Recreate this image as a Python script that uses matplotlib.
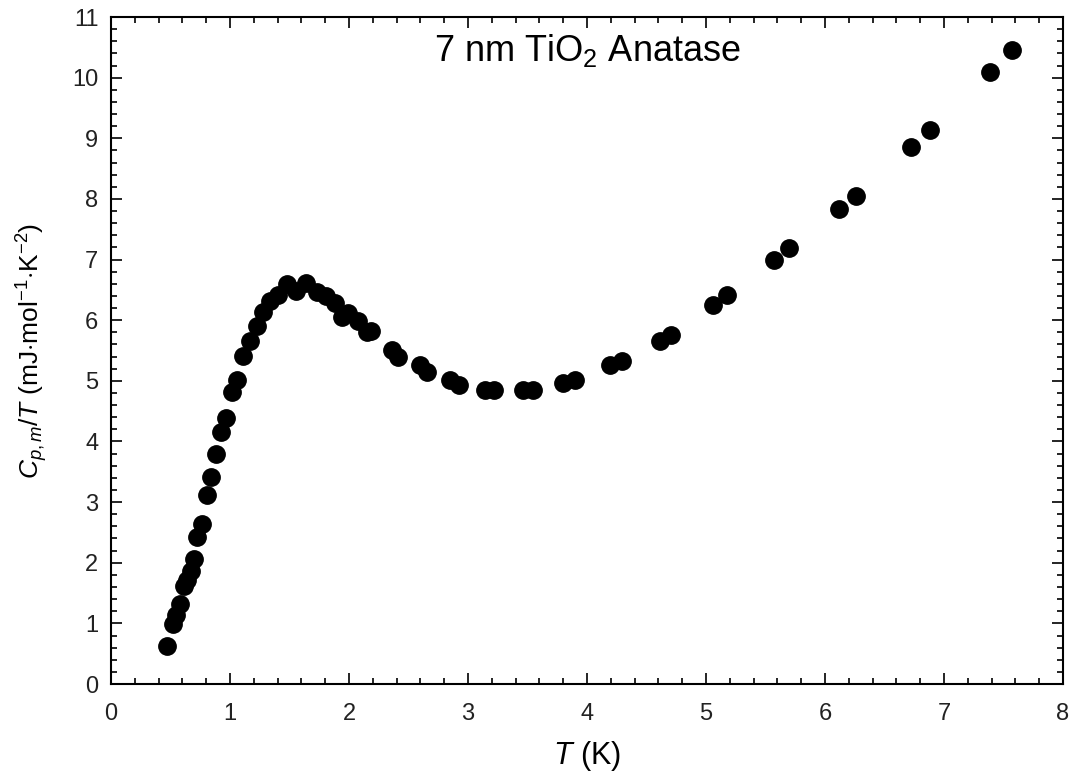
import numpy as np
import matplotlib
matplotlib.use("Agg")
import matplotlib.pyplot as plt
from matplotlib.ticker import MultipleLocator

plt.rcParams['font.family'] = ['Liberation Sans', 'DejaVu Sans']
plt.rcParams['mathtext.fontset'] = 'custom'
plt.rcParams['mathtext.rm'] = 'Liberation Sans'
plt.rcParams['mathtext.it'] = 'Liberation Sans:italic'
plt.rcParams['mathtext.bf'] = 'Liberation Sans:bold'

# T (K) and Cp,m/T (mJ mol-1 K-2)
T = [0.47, 0.52, 0.55, 0.58, 0.61, 0.64, 0.67, 0.70, 0.725, 0.767,
     0.804, 0.84, 0.882, 0.922, 0.966, 1.014, 1.056, 1.107, 1.168, 1.224,
     1.28, 1.336, 1.406, 1.476, 1.555, 1.636, 1.729, 1.807, 1.882, 1.939,
     1.994, 2.078, 2.149, 2.185, 2.359, 2.414, 2.597, 2.658, 2.849, 2.927,
     3.143, 3.218, 3.465, 3.549, 3.80, 3.90, 4.19, 4.29, 4.61, 4.71,
     5.06, 5.18, 5.57, 5.70, 6.12, 6.26, 6.72, 6.88, 7.39, 7.57]
CpT = [0.63, 0.99, 1.13, 1.32, 1.62, 1.72, 1.86, 2.06, 2.43, 2.64,
       3.12, 3.42, 3.79, 4.15, 4.39, 4.81, 5.02, 5.41, 5.65, 5.91,
       6.13, 6.31, 6.42, 6.60, 6.49, 6.62, 6.47, 6.40, 6.28, 6.06,
       6.12, 5.98, 5.81, 5.83, 5.51, 5.40, 5.26, 5.15, 5.02, 4.93,
       4.85, 4.85, 4.85, 4.85, 4.96, 5.02, 5.26, 5.32, 5.65, 5.76,
       6.25, 6.42, 7.00, 7.19, 7.84, 8.05, 8.85, 9.14, 10.10, 10.45]

fig = plt.figure(figsize=(10.7, 7.75), dpi=100)
ax = fig.add_axes([0.1037, 0.1174, 0.8898, 0.8606])

ax.plot(T, CpT, 'o', color='black', ms=12.5, mec='black')

ax.set_xlim(0, 8)
ax.set_ylim(0, 11)
ax.xaxis.set_major_locator(MultipleLocator(1))
ax.xaxis.set_minor_locator(MultipleLocator(0.2))
ax.yaxis.set_major_locator(MultipleLocator(1))
ax.yaxis.set_minor_locator(MultipleLocator(0.2))
ax.tick_params(which='both', direction='in', top=True, right=True, width=1.2)
ax.tick_params(which='major', length=8)
ax.tick_params(which='minor', length=4.5)
ax.tick_params(axis='x', pad=14, labelsize=17, labelcolor='#222222')
ax.tick_params(axis='y', pad=9, labelsize=17, labelcolor='#222222')
for s in ax.spines.values():
    s.set_linewidth(1.5)

ax.set_xlabel('$T$ (K)', fontsize=22, labelpad=10)
ax.set_ylabel('$C_{p,m}$/$T$ (mJ$\\cdot$mol$^{-1}$$\\cdot$K$^{-2}$)', fontsize=19, labelpad=16)
ax.text(4.0, 10.45, '7 nm TiO$_2$ Anatase', fontsize=26, ha='center', va='center')

fig.savefig('out.png', dpi=100)
